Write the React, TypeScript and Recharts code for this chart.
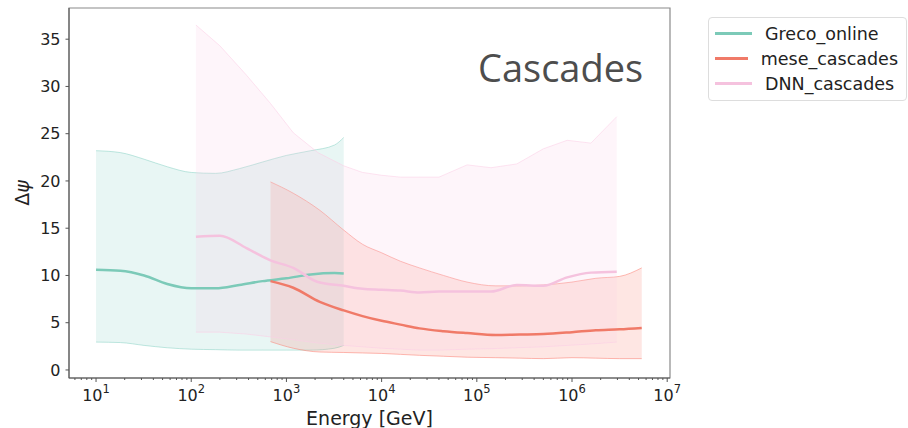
import React from "react";
import {
  ComposedChart,
  Area,
  Line,
  XAxis,
  YAxis,
  Legend,
  ReferenceArea,
} from "recharts";

// Greco_online: energy [GeV], median and band edges of Δψ
const grecoEnergy = [10, 18, 32, 56, 100, 180, 320, 560, 1000, 1800, 3200, 4000];
const grecoMedian = [10.6, 10.5, 10.0, 9.1, 8.65, 8.65, 9.0, 9.4, 9.7, 10.1, 10.25, 10.2];
const grecoLow = [2.95, 2.9, 2.6, 2.35, 2.2, 2.15, 2.1, 2.1, 2.1, 2.1, 2.3, 2.6];
const grecoHigh = [23.2, 23.0, 22.3, 21.5, 20.9, 20.8, 21.3, 22.0, 22.7, 23.2, 23.8, 24.6];

// mese_cascades
const meseEnergy = [
  680, 1180, 2240, 4000, 6300, 10000, 15800, 25000, 44700, 79000, 158000,
  282000, 500000, 1000000, 1780000, 3160000, 5400000,
];
const meseMedian = [9.4, 8.7, 7.2, 6.3, 5.7, 5.2, 4.8, 4.4, 4.1, 3.9, 3.7, 3.75, 3.8, 4.0, 4.2, 4.3, 4.45];
const meseLow = [3.0, 2.3, 1.9, 1.85, 1.8, 1.75, 1.65, 1.55, 1.45, 1.35, 1.3, 1.25, 1.2, 1.3, 1.25, 1.2, 1.2];
const meseHigh = [19.9, 18.7, 16.9, 14.8, 13.3, 12.4, 11.5, 10.8, 10.0, 9.3, 8.9, 8.9, 9.0, 9.3, 9.7, 9.9, 10.8];

// DNN_cascades
const dnnEnergy = [
  112, 200, 380, 680, 1180, 2140, 4000, 6300, 10000, 15800, 25000, 40000,
  79000, 141000, 263000, 500000, 890000, 1580000, 2950000,
];
const dnnMedian = [14.1, 14.2, 12.9, 11.6, 10.8, 9.3, 8.9, 8.6, 8.5, 8.4, 8.2, 8.3, 8.3, 8.3, 9.0, 8.9, 9.8, 10.3, 10.4];
const dnnLow = [4.0, 4.0, 3.8, 3.5, 3.2, 2.85, 2.6, 2.45, 2.3, 2.2, 2.1, 2.1, 2.2, 2.25, 2.35, 2.45, 2.6, 2.75, 2.95];
const dnnHigh = [36.5, 34.3, 31.2, 28.2, 25.1, 23.0, 21.6, 20.9, 20.6, 20.4, 20.4, 20.4, 21.7, 21.4, 21.8, 23.4, 24.3, 24.0, 26.8];

// Axis ticks / limits
const yTicks = [0, 5, 10, 15, 20, 25, 30, 35];
const xDomain = [5.2, 1.07e7];
const yDomain = [-0.85, 38.3];

const seriesNames = ["Greco_online", "mese_cascades", "DNN_cascades"];
const seriesColors = ["#8dd3c7", "#fb8072", "#fccde5"];
const lineColors = ["#7ccab8", "#f07a68", "#f5c2de"];

const toRows = (e: number[], m: number[], lo: number[], hi: number[]) =>
  e.map((x, i) => ({ energy: x, median: m[i], band: [lo[i], hi[i]] }));

const grecoRows = toRows(grecoEnergy, grecoMedian, grecoLow, grecoHigh);
const meseRows = toRows(meseEnergy, meseMedian, meseLow, meseHigh);
const dnnRows = toRows(dnnEnergy, dnnMedian, dnnLow, dnnHigh);

// major + minor log ticks
const xTicks: number[] = [];
for (let p = 0; p < 7; p++) {
  for (let k = 1; k < 10; k++) {
    const v = k * Math.pow(10, p);
    if (v > xDomain[0] && v < xDomain[1]) xTicks.push(v);
  }
}
xTicks.push(1e7);

const font = "DejaVu Sans, sans-serif";

const XTick = (props: any) => {
  const { x, y, payload } = props;
  const exp = Math.log10(payload.value);
  const major = Math.abs(exp - Math.round(exp)) < 1e-6;
  return (
    <g>
      <line x1={x} x2={x} y1={y} y2={y + (major ? 4 : 2)} stroke="#555" strokeWidth={1} />
      {major && (
        <text x={x} y={y + 23} textAnchor="middle" fontSize={16} fill="#222" fontFamily={font}>
          10
          <tspan dy={-8} fontSize={11.5}>
            {Math.round(exp)}
          </tspan>
        </text>
      )}
    </g>
  );
};

const LegendBox = () => (
  <div
    style={{
      border: "1px solid #ddd",
      borderRadius: 4,
      padding: "3px 8px 4px 6px",
      background: "#fff",
      fontFamily: font,
      fontSize: 17.5,
      color: "#222",
      width: 199,
      boxSizing: "border-box",
      textAlign: "left",
    }}
  >
    {seriesNames.map((name, i) => (
      <div key={name} style={{ display: "flex", alignItems: "center", height: 25 }}>
        <span
          style={{
            display: "inline-block",
            width: 37,
            height: 2.5,
            background: lineColors[i],
            marginRight: 13,
          }}
        />
        {name}
      </div>
    ))}
  </div>
);

const YLabel = (props: any) => {
  const { viewBox } = props;
  const cy = viewBox.y + viewBox.height / 2;
  return (
    <text
      x={29}
      y={cy}
      transform={`rotate(-90, 29, ${cy})`}
      textAnchor="middle"
      fontSize={19}
      fill="#222"
      fontFamily={font}
    >
      Δ<tspan fontStyle="italic">ψ</tspan>
    </text>
  );
};

export default function App() {
  const bands = [grecoRows, meseRows, dnnRows];
  return (
    <div style={{ position: "absolute", left: 0, top: 0, width: 908, height: 428, background: "#fff" }}>
      <ComposedChart width={908} height={428} margin={{ top: 8, right: 238, bottom: 0, left: 0 }}>
        <XAxis
          dataKey="energy"
          type="number"
          scale="log"
          domain={xDomain}
          allowDataOverflow
          ticks={xTicks}
          interval={0}
          tick={<XTick />}
          tickLine={false}
          tickSize={0}
          tickMargin={0}
          height={50}
          stroke="#555"
          label={{
            value: "Energy [GeV]",
            position: "insideBottom",
            offset: 3,
            fontSize: 19,
            fill: "#222",
            fontFamily: font,
          }}
        />
        <YAxis
          type="number"
          domain={yDomain}
          allowDataOverflow
          ticks={yTicks}
          interval={0}
          width={69}
          tickSize={3.5}
          tickMargin={5}
          stroke="#555"
          tick={{ fontSize: 16, fill: "#222", fontFamily: font }}
          label={<YLabel />}
        />

        {/* plot frame (top / right spines) */}
        <ReferenceArea
          x1={xDomain[0]}
          x2={xDomain[1]}
          y1={yDomain[0]}
          y2={yDomain[1]}
          fill="none"
          stroke="#8a8a8a"
          strokeWidth={1.2}
          ifOverflow="visible"
        />

        {bands.map((rows, i) => [
          <Area
            key={`band-${i}`}
            data={rows}
            dataKey="band"
            type={i === 2 ? "linear" : "monotone"}
            stroke={seriesColors[i]}
            strokeOpacity={0.55}
            strokeWidth={1}
            fill={seriesColors[i]}
            fillOpacity={0.2}
            isAnimationActive={false}
            legendType="none"
          />,
          <Line
            key={`line-${i}`}
            data={rows}
            dataKey="median"
            name={seriesNames[i]}
            type="monotone"
            stroke={lineColors[i]}
            strokeWidth={2.5}
            dot={false}
            isAnimationActive={false}
          />,
        ])}

        <Legend
          layout="vertical"
          align="center"
          verticalAlign="middle"
          wrapperStyle={{ left: 708, top: 17, width: 200 }}
          content={<LegendBox />}
        />
        <text x={478} y={82} fontSize={38} fill="#4d4d4d" fontFamily="Open Sans, sans-serif">
          Cascades
        </text>
      </ComposedChart>
    </div>
  );
}
